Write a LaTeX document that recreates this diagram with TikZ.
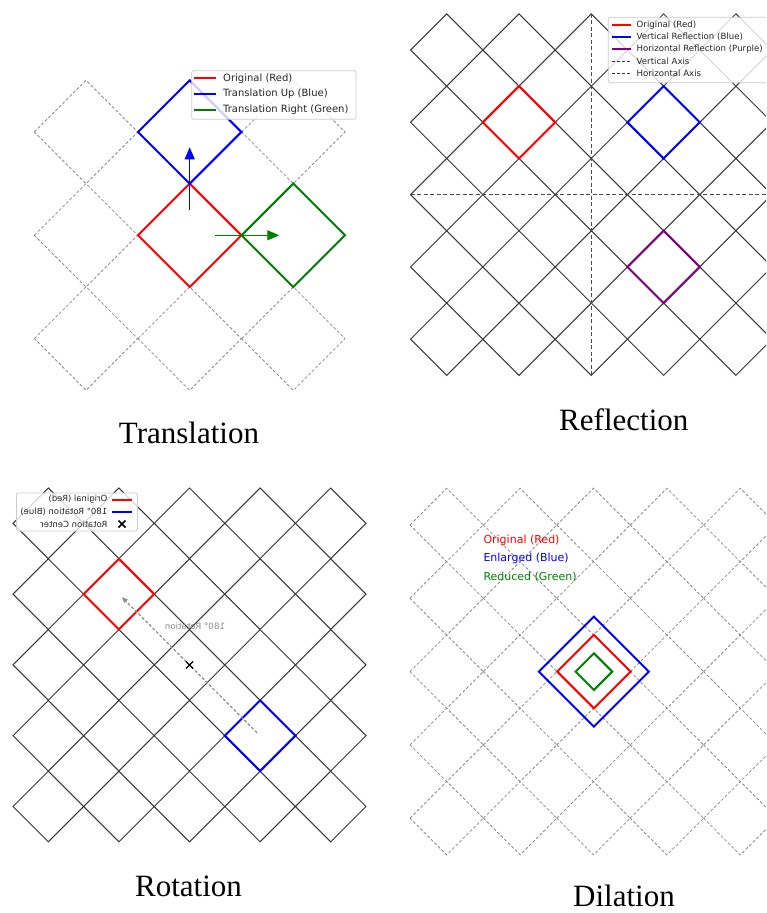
\documentclass[tikz,border=0pt]{standalone}
\usepackage{fontspec}
\setmainfont{Liberation Serif}
\newfontfamily\dv{DejaVu Sans}
\usetikzlibrary{arrows.meta}
\definecolor{mgreen}{HTML}{008000}
\definecolor{mpurple}{HTML}{800080}
\tikzset{
  dgrid/.style={black!45, line width=0.8pt, dash pattern=on 3pt off 2pt},
  sgrid/.style={black!78, line width=1pt},
  fig/.style={line width=2pt, line join=miter},
  legbox/.style={draw=black!20, fill=white, fill opacity=0.8, rounded corners=2pt, line width=0.8pt},
  legtxt/.style={inner sep=0pt, anchor=west, text=black!85},
  captxt/.style={inner sep=0pt, anchor=base, font=\fontsize{31}{36}\selectfont},
}
\begin{document}
\begin{tikzpicture}[x=1pt,y=-1pt]
\useasboundingbox (0,0) rectangle (766,913);
\fill[white] (0,0) rectangle (766,913);
\clip (0,0) rectangle (766,913);

% ---------------- Translation ----------------
\foreach \cx in {86,189.7,293.3}{\foreach \cy in {132,235.3,338.6}{
  \draw[dgrid] (\cx-51.7,\cy) -- (\cx,\cy-51.7) -- (\cx+51.7,\cy) -- (\cx,\cy+51.7) -- cycle;}}
\draw[fig, red] (138,235.3) -- (189.7,183.6) -- (241.4,235.3) -- (189.7,287) -- cycle;
\draw[fig, blue] (138,132) -- (189.7,80.3) -- (241.4,132) -- (189.7,183.7) -- cycle;
\draw[fig, mgreen] (241.6,235.3) -- (293.3,183.6) -- (345,235.3) -- (293.3,287) -- cycle;
\coordinate (ua) at (189.7,210);
\coordinate (ub) at (189.7,147.3);
\coordinate (ra) at (215,235.3);
\coordinate (rb) at (279.3,235.3);
\draw[blue, line width=1.3pt, -{Triangle[length=12pt,width=10pt]}] (ua) -- (ub);
\draw[mgreen, line width=1.3pt, -{Triangle[length=12pt,width=10pt]}] (ra) -- (rb);
\draw[legbox] (191.7,70.7) rectangle (356,119.3);
\draw[red, line width=2pt] (194,78.3) -- (216,78.3);
\draw[blue, line width=2pt] (194,94.2) -- (216,94.2);
\draw[mgreen, line width=2pt] (194,110) -- (216,110);
\begin{scope}[font=\dv\fontsize{10}{12}\selectfont]
\node[legtxt] (t1) at (223,78.3) {Original (Red)};
\node[legtxt] (t2) at (223,94.2) {Translation Up (Blue)};
\node[legtxt] (t3) at (223,110) {Translation Right (Green)};
\end{scope}
\node[captxt] (capT) at (189,443) {Translation};

% ---------------- Reflection ----------------
\foreach \cx in {446.7,519,591.3,663.6,735.9,808.2}{\foreach \cy in {50,122.3,194.6,266.9,339.2}{
  \draw[sgrid] (\cx-36.15,\cy) -- (\cx,\cy-36.15) -- (\cx+36.15,\cy) -- (\cx,\cy+36.15) -- cycle;}}
\draw[black!70, line width=1.5pt, dash pattern=on 4pt off 2.5pt] (591.3,13.9) -- (591.3,375.4);
\draw[black!70, line width=1.5pt, dash pattern=on 4pt off 2.5pt] (410.5,194.6) -- (772,194.6);
\draw[fig, red] (482.85,122.3) -- (519,86.15) -- (555.15,122.3) -- (519,158.45) -- cycle;
\draw[fig, blue] (627.45,122.3) -- (663.6,86.15) -- (699.75,122.3) -- (663.6,158.45) -- cycle;
\draw[fig, mpurple] (627.45,266.9) -- (663.6,230.75) -- (699.75,266.9) -- (663.6,303.05) -- cycle;
\draw[legbox] (608.3,17.3) rectangle (790,82.7);
\draw[red, line width=2pt] (611.5,24.7) -- (630.5,24.7);
\draw[blue, line width=2pt] (611.5,36.9) -- (630.5,36.9);
\draw[mpurple, line width=2pt] (611.5,49.1) -- (630.5,49.1);
\draw[black!80, line width=1pt, dash pattern=on 3.5pt off 1.5pt] (611.5,61.3) -- (630.5,61.3);
\draw[black!80, line width=1pt, dash pattern=on 3.5pt off 1.5pt] (611.5,73.5) -- (630.5,73.5);
\begin{scope}[font=\dv\fontsize{8.6}{10}\selectfont]
\node[legtxt] (r1) at (636.5,24.7) {Original (Red)};
\node[legtxt] (r2) at (636.5,36.9) {Vertical Reflection (Blue)};
\node[legtxt] (r3) at (636.5,49.1) {Horizontal Reflection (Purple)};
\node[legtxt] (r4) at (636.5,61.3) {Vertical Axis};
\node[legtxt] (r5) at (636.5,73.5) {Horizontal Axis};
\end{scope}
\node[captxt] (capR) at (623.8,430) {Reflection};

% ---------------- Rotation (mirrored) ----------------
\foreach \cx in {48.3,118.9,189.5,260.1,330.7}{\foreach \cy in {523.3,594.1,664.9,735.7,806.5}{
  \draw[sgrid] (\cx-35.3,\cy) -- (\cx,\cy-35.3) -- (\cx+35.3,\cy) -- (\cx,\cy+35.3) -- cycle;}}
\draw[fig, red] (83.6,594.1) -- (118.9,558.8) -- (154.2,594.1) -- (118.9,629.4) -- cycle;
\draw[fig, blue] (224.8,735.7) -- (260.1,700.4) -- (295.4,735.7) -- (260.1,771) -- cycle;
\coordinate (rota) at (257,732.8);
\coordinate (rotb) at (121.8,597);
\draw[black!45, line width=1.2pt, dash pattern=on 3pt off 2pt, -{Triangle[length=6pt,width=4.5pt]}] (rota) -- (rotb);
\coordinate (rc) at (189.5,664.9);
\draw[black, line width=1.2pt] ([shift={(-3.5,-3.5)}]rc) -- ([shift={(3.5,3.5)}]rc);
\draw[black, line width=1.2pt] ([shift={(-3.5,3.5)}]rc) -- ([shift={(3.5,-3.5)}]rc);
\node[xscale=-1, inner sep=0pt, text=black!45, font=\dv\fontsize{8.7}{10}\selectfont] (rl) at (195,626.7) {180° Rotation};
\draw[legbox] (16.5,493) rectangle (137.5,531);
\draw[red, line width=2pt] (112,499.5) -- (132,499.5);
\draw[blue, line width=2pt] (112,511.7) -- (132,511.7);
\coordinate (lx) at (122,524);
\draw[black, line width=1.6pt] ([shift={(-3.5,-3.5)}]lx) -- ([shift={(3.5,3.5)}]lx);
\draw[black, line width=1.6pt] ([shift={(-3.5,3.5)}]lx) -- ([shift={(3.5,-3.5)}]lx);
\begin{scope}[font=\dv\fontsize{8.5}{10}\selectfont]
\node[legtxt, xscale=-1] (o1) at (107.5,499.5) {Original (Red)};
\node[legtxt, xscale=-1] (o2) at (107.5,511.7) {180° Rotation (Blue)};
\node[legtxt, xscale=-1] (o3) at (107.5,524) {Rotation Center};
\end{scope}
\node[captxt] (capO) at (188.5,896.5) {Rotation};

% ---------------- Dilation ----------------
\foreach \cx in {446.7,520.1,593.5,666.9,740.3}{\foreach \cy in {525,598.3,671.6,744.9,818.2}{
  \draw[dgrid] (\cx-36.7,\cy) -- (\cx,\cy-36.7) -- (\cx+36.7,\cy) -- (\cx,\cy+36.7) -- cycle;}}
\coordinate (dc) at (593.9,671.6);
\draw[fig, blue] ([shift={(-55,0)}]dc) -- ([shift={(0,-55)}]dc) -- ([shift={(55,0)}]dc) -- ([shift={(0,55)}]dc) -- cycle;
\draw[fig, red] ([shift={(-36.7,0)}]dc) -- ([shift={(0,-36.7)}]dc) -- ([shift={(36.7,0)}]dc) -- ([shift={(0,36.7)}]dc) -- cycle;
\draw[fig, mgreen] ([shift={(-18.35,0)}]dc) -- ([shift={(0,-18.35)}]dc) -- ([shift={(18.35,0)}]dc) -- ([shift={(0,18.35)}]dc) -- cycle;
\begin{scope}[font=\dv\fontsize{11}{13}\selectfont]
\node[legtxt, text=red] (d1) at (483.3,540) {Original (Red)};
\node[legtxt, text=blue] (d2) at (483.3,558.7) {Enlarged (Blue)};
\node[legtxt, text=mgreen] (d3) at (483.3,576.7) {Reduced (Green)};
\end{scope}
\node[captxt] (capD) at (624,906.3) {Dilation};
\end{tikzpicture}
\end{document}
